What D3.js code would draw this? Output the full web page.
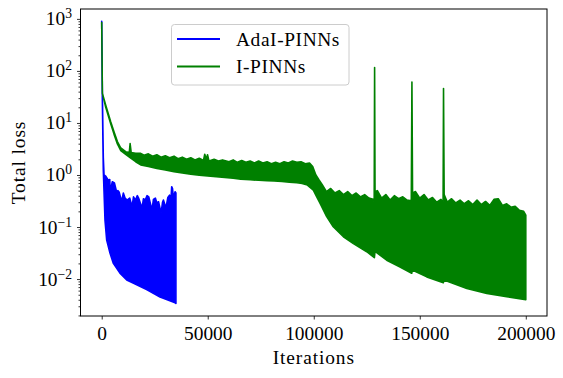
<!DOCTYPE html>
<html>
<head>
<meta charset="utf-8">
<script src="https://cdn.jsdelivr.net/npm/d3@7"></script>
<style>
  body { margin: 0; background: #fff; }
  text { font-family: "Liberation Serif", "DejaVu Serif", serif; fill: #000; }
</style>
</head>
<body>
<svg id="chart" width="563" height="378"></svg>
<script>
// envelope points [iteration, loss]
const blueUpper = [[0,900],[300,40],[750,2.2],[1100,1.0],[1900,0.95],[3000,0.8],[3800,0.82],[4000,0.48],[5000,0.74],[6000,0.7],[7000,0.48],[7600,0.5],[8200,0.47],[9400,0.31],[10200,0.45],[11000,0.36],[12000,0.33],[13200,0.36],[14300,0.246],[15000,0.38],[15900,0.33],[16800,0.4],[17400,0.36],[19000,0.232],[19700,0.35],[20500,0.33],[21400,0.4],[22200,0.38],[23700,0.212],[24400,0.34],[25300,0.36],[26000,0.29],[26800,0.306],[28000,0.186],[28700,0.3],[29100,0.33],[30300,0.232],[31200,0.37],[32000,0.41],[32600,0.3],[33000,0.596],[33400,0.55],[33800,0.36],[34600,0.477],[35000,0.45]];
const blueLower = [[0,900],[300,30],[750,1.25],[1550,0.136],[2350,0.056],[3900,0.0316],[5500,0.020],[8600,0.013],[11800,0.0096],[14800,0.0084],[21400,0.0062],[27500,0.0045],[34600,0.0035],[35000,0.0034]];

const greenUpper = [[0,850],[330,37],[1900,22],[4250,10.5],[5800,6.8],[7400,4.4],[9000,3.3],[11300,2.8],[13000,2.7],[13400,4.0],[13900,2.7],[16000,2.6],[18400,2.6],[20000,2.4],[22000,2.55],[24000,2.3],[26000,2.45],[28000,2.2],[30000,2.35],[32000,2.15],[34100,2.3],[36000,2.05],[38000,2.2],[40000,2.0],[42000,2.15],[44000,1.95],[46000,2.1],[48000,1.9],[48600,2.5],[49300,2.0],[49900,2.45],[50600,1.85],[53000,2.0],[55000,1.85],[57000,1.95],[60000,1.8],[62000,1.95],[64000,1.75],[66000,1.9],[68000,1.75],[70000,1.85],[72000,1.7],[74000,1.85],[76000,1.7],[78000,1.8],[80000,1.65],[82000,1.75],[84000,1.65],[86000,1.8],[88000,1.7],[90000,1.85],[92000,1.75],[94000,1.8],[96000,1.65],[98000,1.7],[99500,1.45],[101000,1.0],[102500,0.8],[104000,0.65],[106000,0.48],[108000,0.55],[110000,0.45],[112000,0.5],[114000,0.42],[116000,0.48],[118000,0.4],[120000,0.45],[122000,0.38],[124000,0.42],[126000,0.36],[128000,0.34],[128500,0.3],[128700,116],[128900,0.48],[130000,0.5],[132000,0.36],[134000,0.42],[136000,0.33],[138000,0.4],[140000,0.35],[142000,0.38],[144000,0.33],[146000,0.32],[146300,61],[146600,0.45],[148000,0.48],[150000,0.36],[152000,0.42],[154000,0.33],[156000,0.37],[158000,0.3],[160000,0.34],[161000,0.3],[161200,46],[161500,0.42],[163000,0.3],[165000,0.35],[167000,0.29],[169000,0.33],[171000,0.28],[173000,0.32],[175000,0.27],[177000,0.33],[179000,0.27],[181000,0.31],[183000,0.26],[185000,0.34],[187000,0.35],[189000,0.26],[191000,0.28],[193000,0.24],[195000,0.25],[197000,0.21],[199000,0.2],[200000,0.17]];
const greenLower = [[0,850],[330,37],[1900,20],[4250,9.6],[5800,6.1],[7400,3.95],[9000,2.95],[11300,2.5],[13700,2.1],[16000,1.8],[18400,1.56],[22000,1.45],[26000,1.33],[30000,1.25],[34100,1.16],[38000,1.1],[42000,1.04],[46000,0.99],[50000,0.96],[54000,0.93],[58000,0.9],[62000,0.87],[65600,0.83],[70000,0.81],[74000,0.79],[78000,0.78],[81300,0.77],[85000,0.75],[88500,0.73],[92000,0.71],[94500,0.69],[97000,0.64],[99800,0.51],[101400,0.38],[103000,0.285],[106100,0.158],[109200,0.101],[114000,0.065],[118700,0.048],[125000,0.0335],[128600,0.0258],[128900,0.034],[134400,0.023],[140700,0.0171],[146200,0.0129],[146500,0.0149],[153300,0.011],[161100,0.0085],[161400,0.0096],[172200,0.0066],[181600,0.0053],[191000,0.0046],[200000,0.0040]];

const xTicks = [0, 50000, 100000, 150000, 200000];
const yExponents = [-2, -1, 0, 1, 2, 3];
const seriesNames = ["AdaI-PINNs", "I-PINNs"];
const seriesColors = ["#0000ff", "#008000"];

var svg = d3.select("#chart");
var mLeft = 80.5, mRight = 547, mTop = 9, mBottom = 316;

let x = d3.scaleLinear().domain([-10000, 210000]).range([mLeft, mRight]);
let y = d3.scaleLog().domain([Math.pow(10, -2.71), Math.pow(10, 3.19)]).range([mBottom, mTop]);

svg.append("clipPath").attr("id", "plotclip")
    .append("rect").attr("x", mLeft).attr("y", mTop).attr("width", mRight - mLeft).attr("height", mBottom - mTop);

// band = upper edge forward, lower edge backwards
let line = d3.line().x(d => x(d[0])).y(d => y(d[1]));
function band(upper, lower) {
    return line(upper.concat(lower.slice().reverse())) + "Z";
}

let plot = svg.append("g").attr("clip-path", "url(#plotclip)");
plot.append("path").attr("d", band(blueUpper, blueLower))
    .attr("fill", seriesColors[0]).attr("stroke", seriesColors[0])
    .attr("stroke-width", 1.6).attr("stroke-linejoin", "round");
plot.append("path").attr("d", band(greenUpper, greenLower))
    .attr("fill", seriesColors[1]).attr("stroke", seriesColors[1])
    .attr("stroke-width", 1.6).attr("stroke-linejoin", "round");

// x axis
let xAxis = d3.axisBottom(x).tickValues(xTicks).tickSize(3.5).tickPadding(3.5).tickFormat(d3.format("d"));
let gx = svg.append("g").attr("transform", "translate(0," + mBottom + ")").call(xAxis);
gx.select(".domain").remove();
gx.selectAll("text").style("font-size", "19.4px").attr("y", 0).attr("dy", "24px");

// y axis, major
let yMajor = yExponents.map(e => Math.pow(10, e));
let yAxis = d3.axisLeft(y).tickValues(yMajor).tickSize(3.5).tickFormat("");
let gy = svg.append("g").attr("transform", "translate(" + mLeft + ",0)").call(yAxis);
gy.select(".domain").remove();
gy.selectAll(".tick").each(function(d, i) {
    let t = d3.select(this).append("text")
        .attr("x", -8.5).attr("y", 6).attr("text-anchor", "end")
        .style("font-size", "19.4px");
    t.append("tspan").text("10");
    let e = yExponents[i];
    t.append("tspan").attr("dy", -7).style("font-size", "13.6px")
        .text(e < 0 ? "\u2212" + (-e) : String(e));
});

// y axis, minor
let yMinor = [];
for (let e = -3; e <= 3; e++) {
    for (let k = 2; k <= 9; k++) {
        let v = k * Math.pow(10, e);
        if (v >= y.domain()[0] && v <= y.domain()[1]) yMinor.push(v);
    }
}
let gym = svg.append("g").attr("transform", "translate(" + mLeft + ",0)")
    .call(d3.axisLeft(y).tickValues(yMinor).tickSize(2).tickFormat(""));
gym.select(".domain").remove();

svg.selectAll(".tick line").attr("stroke", "#000").attr("stroke-width", 0.8);

// frame
svg.append("rect").attr("x", mLeft).attr("y", mTop).attr("width", mRight - mLeft).attr("height", mBottom - mTop)
    .attr("fill", "none").attr("stroke", "#000").attr("stroke-width", 1);

// axis titles
svg.append("text")
    .style("font-size", "19.4px").style("letter-spacing", "0.9px")
    .attr("text-anchor", "middle")
    .attr("x", (mLeft + mRight) / 2).attr("y", 364)
    .text("Iterations");

svg.append("text")
    .style("font-size", "19.4px").style("letter-spacing", "0.9px")
    .attr("text-anchor", "middle")
    .attr("transform", "translate(25," + (mTop + mBottom) / 2 + "), rotate(-90)")
    .text("Total loss");

// legend
let legend = svg.append("g");
legend.append("rect").attr("x", 171.5).attr("y", 24.5).attr("width", 177.5).attr("height", 60.5).attr("rx", 3)
    .attr("fill", "#fff").attr("fill-opacity", 0.8).attr("stroke", "#cccccc").attr("stroke-width", 1);
let legendY = [39, 66.5];
seriesNames.forEach((name, i) => {
    legend.append("line").attr("x1", 177).attr("x2", 220).attr("y1", legendY[i]).attr("y2", legendY[i])
        .attr("stroke", seriesColors[i]).attr("stroke-width", 2);
    legend.append("text").attr("x", 236).attr("y", legendY[i] + 6.5)
        .style("font-size", "19.4px").style("letter-spacing", "0.6px")
        .text(name);
});
</script>
</body>
</html>
